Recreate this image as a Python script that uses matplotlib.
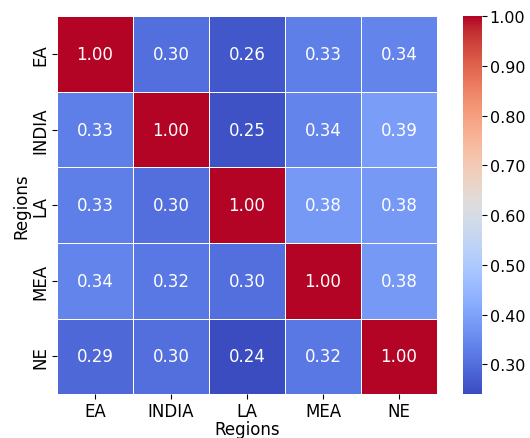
import matplotlib
matplotlib.use("Agg")
import matplotlib.pyplot as plt
import seaborn as sns
import numpy as np
import pandas as pd
from matplotlib.ticker import FormatStrFormatter

regions = ["EA", "INDIA", "LA", "MEA", "NE"]
row_ea = [1.00, 0.30, 0.26, 0.33, 0.34]
row_india = [0.33, 1.00, 0.25, 0.34, 0.39]
row_la = [0.33, 0.30, 1.00, 0.38, 0.38]
row_mea = [0.34, 0.32, 0.30, 1.00, 0.38]
row_ne = [0.29, 0.30, 0.24, 0.32, 1.00]
cbar_ticks = [0.30, 0.40, 0.50, 0.60, 0.70, 0.80, 0.90, 1.00]

corr = pd.DataFrame([row_ea, row_india, row_la, row_mea, row_ne],
                    index=regions, columns=regions)

fig = plt.figure(figsize=(5.30, 4.39), dpi=100)
ax = fig.add_axes([0.1075, 0.100, 0.717, 0.861])
cax = fig.add_axes([0.8736, 0.100, 0.036, 0.861])

sns.heatmap(corr, ax=ax, cbar_ax=cax, cmap="coolwarm", annot=True, fmt=".2f",
            linewidths=0.5, linecolor="white",
            annot_kws={"fontsize": 12, "color": "white"})

ax.set_xlabel("Regions", fontsize=12, labelpad=0)
ax.set_ylabel("Regions", fontsize=12, labelpad=1)
ax.tick_params(axis="both", labelsize=12, pad=2)
plt.setp(ax.get_yticklabels(), rotation=90, va="center")
plt.setp(ax.get_xticklabels(), rotation=0)

cax.set_yticks(cbar_ticks)
cax.yaxis.set_major_formatter(FormatStrFormatter("%.2f"))
cax.tick_params(labelsize=11.5, pad=2)

fig.savefig("out.png", dpi=100)
